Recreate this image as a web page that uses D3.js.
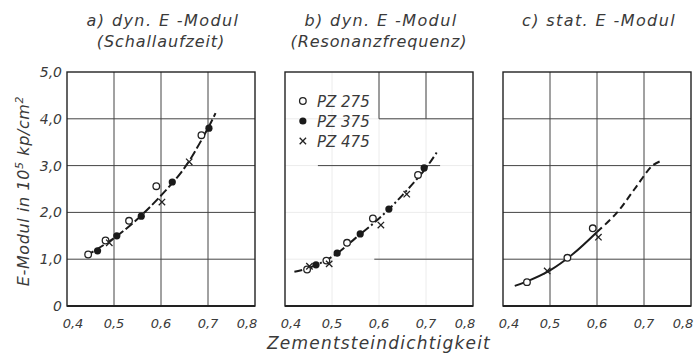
<!DOCTYPE html>
<html>
<head>
<meta charset="utf-8">
<script src="https://cdn.jsdelivr.net/npm/d3@7"></script>
<style>
  body { margin: 0; background: #fff; }
  svg text { font-family: "DejaVu Sans", sans-serif; font-style: italic; fill: #3a3a3a; }
</style>
</head>
<body>
<div class="container"></div>
<script>
// axis ticks shared by all three panels
var xTicks = [0.4, 0.5, 0.6, 0.7, 0.8];
var xTickLabels = ["0,4", "0,5", "0,6", "0,7", "0,8"];
var yTicks = [0, 1, 2, 3, 4, 5];
var yTickLabels = ["0", "1,0", "2,0", "3,0", "4,0", "5,0"];

var titles1 = ["a) dyn. E -Modul", "b) dyn. E -Modul", "c) stat. E -Modul"];
var titles2 = ["(Schallaufzeit)", "(Resonanzfrequenz)", ""];
var legendNames = ["PZ 275", "PZ 375", "PZ 475"];

// a) Schallaufzeit  [dichtigkeit, modul]
var aPZ275 = [[0.445, 1.1], [0.482, 1.4], [0.532, 1.82], [0.59, 2.56], [0.686, 3.65]];
var aPZ375 = [[0.465, 1.18], [0.506, 1.5], [0.558, 1.92], [0.624, 2.65], [0.702, 3.8]];
var aPZ475 = [[0.49, 1.35], [0.602, 2.22], [0.66, 3.08]];
var aCurve = [[0.44, 1.07], [0.5, 1.45], [0.55, 1.86], [0.6, 2.36], [0.65, 2.95], [0.7, 3.8], [0.716, 4.12]];

// b) Resonanzfrequenz
var bPZ275 = [[0.447, 0.78], [0.488, 0.97], [0.532, 1.35], [0.587, 1.87], [0.683, 2.8]];
var bPZ375 = [[0.466, 0.88], [0.511, 1.13], [0.56, 1.54], [0.621, 2.07], [0.696, 2.95]];
var bPZ475 = [[0.452, 0.85], [0.494, 0.9], [0.604, 1.73], [0.659, 2.39]];
var bCurve = [[0.42, 0.73], [0.45, 0.81], [0.5, 1.05], [0.55, 1.45], [0.6, 1.87], [0.65, 2.37], [0.7, 2.95], [0.726, 3.33]];

// c) stat. E-Modul
var cPZ275 = [[0.451, 0.51], [0.537, 1.03], [0.591, 1.66]];
var cPZ475 = [[0.494, 0.75], [0.603, 1.47]];
var cCurveSolid = [[0.425, 0.43], [0.45, 0.52], [0.5, 0.76], [0.55, 1.12], [0.6, 1.58]];
var cCurveDashed = [[0.6, 1.58], [0.643, 2.0], [0.68, 2.5], [0.718, 3.0], [0.736, 3.1]];

// panel b: grid pieces still printed dark  [x1, y1, x2, y2]
var bGridDark = [[0.6, 5, 0.6, 4], [0.7, 5, 0.7, 4], [0.6, 4, 0.8, 4], [0.47, 3, 0.73, 3], [0.59, 1, 0.8, 1]];

var width = 695, height = 359;
var plotTop = 72, plotBottom = 306, panelW = 188;
var lefts = [67, 285, 503];

var svg = d3.select(".container").append("svg")
    .attr("width", width)
    .attr("height", height);

var y = d3.scaleLinear().domain([0, 5]).range([plotBottom, plotTop]);

var panels = [
  {series: [aPZ275, aPZ375, aPZ475], curves: [{d: aCurve, dash: "9,3"}], gridColor: "#444"},
  {series: [bPZ275, bPZ375, bPZ475], curves: [{d: bCurve, dash: "8,3,2,3"}], gridColor: "#ececec"},
  {series: [cPZ275, [], cPZ475], curves: [{d: cCurveSolid, dash: null}, {d: cCurveDashed, dash: "7,4"}], gridColor: "#444"}
];

function drawMarker(g, kind, px, py) {
  if (kind == 0) {
    g.append("circle").attr("cx", px).attr("cy", py).attr("r", 3.3)
      .attr("fill", "#fff").attr("stroke", "#222").attr("stroke-width", 1.3);
  } else if (kind == 1) {
    g.append("circle").attr("cx", px).attr("cy", py).attr("r", 3.6).attr("fill", "#1a1a1a");
  } else {
    var s = 3.2;
    g.append("path")
      .attr("d", `M${px - s},${py - s}L${px + s},${py + s}M${px - s},${py + s}L${px + s},${py - s}`)
      .attr("stroke", "#222").attr("stroke-width", 1.3);
  }
}

panels.forEach(function(p, i) {
  var x = d3.scaleLinear().domain([0.4, 0.8]).range([lefts[i], lefts[i] + panelW]);
  var g = svg.append("g");

  // grid
  g.append("g").selectAll("line")
    .data(yTicks.slice(1, -1))
    .join("line")
      .attr("x1", x(0.4)).attr("x2", x(0.8))
      .attr("y1", d => y(d)).attr("y2", d => y(d))
      .attr("stroke", p.gridColor).attr("stroke-width", 1);
  g.append("g").selectAll("line")
    .data(xTicks.slice(1, -1))
    .join("line")
      .attr("x1", d => x(d)).attr("x2", d => x(d))
      .attr("y1", y(0)).attr("y2", y(5))
      .attr("stroke", p.gridColor).attr("stroke-width", 1);

  if (i == 1) {
    g.append("g").selectAll("line")
      .data(bGridDark)
      .join("line")
        .attr("x1", d => x(d[0])).attr("y1", d => y(d[1]))
        .attr("x2", d => x(d[2])).attr("y2", d => y(d[3]))
        .attr("stroke", "#444").attr("stroke-width", 1);
  }

  // frame
  g.append("rect")
    .attr("x", x(0.4)).attr("y", y(5))
    .attr("width", x(0.8) - x(0.4)).attr("height", y(0) - y(5))
    .attr("fill", "none").attr("stroke", "#222").attr("stroke-width", 1.4);
  g.append("line")
    .attr("x1", x(0.4)).attr("x2", x(0.8)).attr("y1", y(0)).attr("y2", y(0))
    .attr("stroke", "#222").attr("stroke-width", 2.2);

  // x tick labels, outer ones nudged inwards like the print
  g.append("g").selectAll("text")
    .data(xTicks)
    .join("text")
      .attr("x", (d, k) => x(d) + (k == 0 ? 6 : k == xTicks.length - 1 ? -8 : 0))
      .attr("y", 328)
      .attr("text-anchor", "middle")
      .style("font-size", "13px")
      .text((d, k) => xTickLabels[k]);

  // titles
  g.append("text")
    .attr("x", x(0.6) + 2).attr("y", 26)
    .attr("text-anchor", "middle")
    .style("font-size", "16px")
    .style("letter-spacing", "1.4px")
    .text(titles1[i]);
  g.append("text")
    .attr("x", x(0.6)).attr("y", 47)
    .attr("text-anchor", "middle")
    .style("font-size", "16px")
    .style("letter-spacing", "0.9px")
    .text(titles2[i]);

  // curves
  var line = d3.line().x(d => x(d[0])).y(d => y(d[1])).curve(d3.curveCatmullRom);
  p.curves.forEach(function(c) {
    g.append("path")
      .attr("d", line(c.d))
      .attr("fill", "none")
      .attr("stroke", "#1a1a1a")
      .attr("stroke-width", 2)
      .attr("stroke-dasharray", c.dash);
  });

  // markers
  p.series.forEach(function(s, k) {
    s.forEach(d => drawMarker(g, k, x(d[0]), y(d[1])));
  });

  // legend in panel b
  if (i == 1) {
    var lg = g.append("g");
    legendNames.forEach(function(n, k) {
      var ly = 101 + k * 20;
      drawMarker(lg, k, x(0.438), ly);
      lg.append("text")
        .attr("x", x(0.468)).attr("y", ly + 5.5)
        .style("font-size", "15px")
        .text(n);
    });
  }
});

// y tick labels (panel a only)
var x0 = lefts[0];
svg.append("g").selectAll("text")
  .data(yTicks)
  .join("text")
    .attr("x", x0 - 5)
    .attr("y", d => y(d) + 5)
    .attr("text-anchor", "end")
    .style("font-size", "14px")
    .text((d, k) => yTickLabels[k]);

// axis titles
var yt = svg.append("text")
  .attr("transform", `translate(29,${(plotTop + plotBottom) / 2 + 2}) rotate(-90)`)
  .attr("text-anchor", "middle")
  .style("font-size", "16px")
  .style("letter-spacing", "0.6px");
yt.append("tspan").text("E-Modul in 10");
yt.append("tspan").attr("dy", -6).style("font-size", "11px").text("5");
yt.append("tspan").attr("dy", 6).text(" kp/cm");
yt.append("tspan").attr("dy", -6).style("font-size", "11px").text("2");

svg.append("text")
  .attr("x", 379).attr("y", 349)
  .attr("text-anchor", "middle")
  .style("font-size", "17px")
  .style("letter-spacing", "1.2px")
  .text("Zementsteindichtigkeit");
</script>
</body>
</html>
